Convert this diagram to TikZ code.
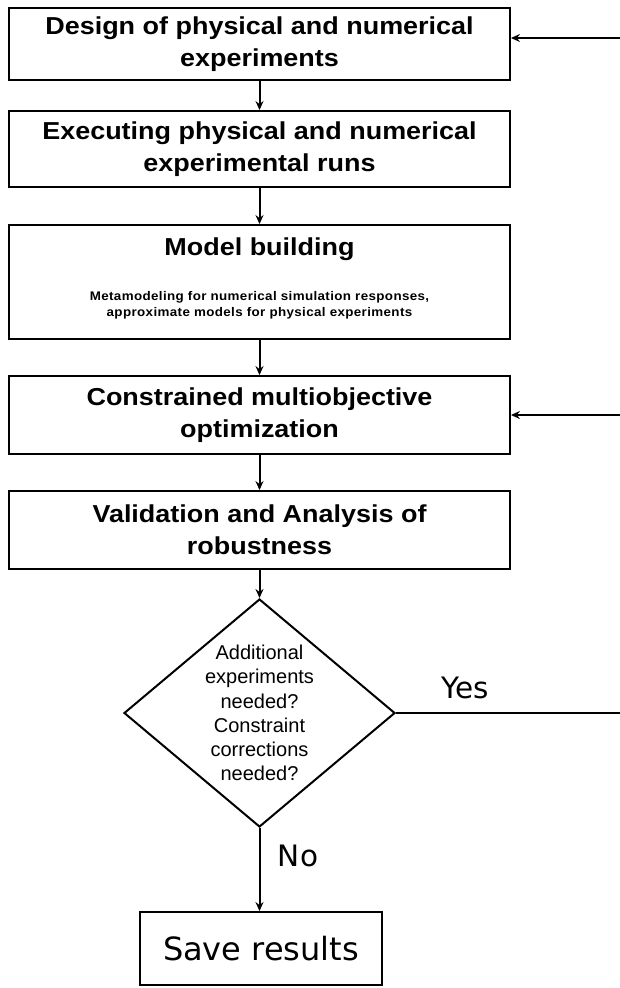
\documentclass[tikz,border=0pt]{standalone}
\usepackage{fontspec}
\setmainfont{Liberation Sans}
\newfontfamily\dejavu{DejaVu Sans}
\newfontfamily\boxfont[FakeStretch=1.10]{Liberation Sans}
\newfontfamily\smallfont[FakeStretch=1.07, LetterSpace=3]{Liberation Sans}
\usetikzlibrary{shapes.geometric,arrows.meta}
\tikzset{
  stepbox/.style={draw, line width=1.9pt, minimum width=501pt, align=center, inner sep=0pt,
    font=\boxfont\fontsize{24.5}{32}\selectfont\bfseries},
  flow/.style={line width=2pt, -{Stealth[length=9pt,width=8pt,inset=3pt]}},
  plain/.style={line width=2pt},
  lbl/.style={font=\dejavu\fontsize{29.5}{30}\selectfont, inner sep=0pt},
}
\begin{document}
\begin{tikzpicture}[x=1pt,y=-1pt]
\useasboundingbox (0,0) rectangle (620,988);
\node[stepbox, minimum height=72pt] (b1) at (259.5,44) {Design of physical and numerical\\experiments};
\node[stepbox, minimum height=76pt] (b2) at (259.5,149) {Executing physical and numerical\\experimental runs};
\node[stepbox, minimum height=114pt] (b3) at (259.5,282) {};
\node[font=\boxfont\fontsize{24.5}{26}\selectfont\bfseries, inner sep=0pt] (b3t) at (259.5,249) {Model building};
\node[font=\smallfont\fontsize{12.5}{15.5}\selectfont\bfseries, align=center, inner sep=0pt] (b3s) at (259.5,305.5)
  {Metamodeling for numerical simulation responses,\\approximate models for physical experiments};
\node[stepbox, minimum height=78pt] (b4) at (259.5,415) {Constrained multiobjective\\optimization};
\node[stepbox, minimum height=78pt] (b5) at (259.5,530) {Validation and Analysis of\\robustness};
\node[draw, diamond, line width=2pt, inner sep=0pt, minimum width=271pt, minimum height=228pt,
  label={[align=center, font=\fontsize{20}{24.3}\selectfont]center:Additional\\experiments\\needed?\\Constraint\\corrections\\needed?}] (dec) at (259.5,713) {};
\node[draw, line width=1.9pt, minimum width=242pt, minimum height=73pt, inner sep=0pt,
  font=\dejavu\fontsize{32}{34}\selectfont] (save) at (261,948.5) {Save results};
\node[lbl] (yes) at (465,688) {Yes};
\node[lbl] (no) at (298,856) {No};
\coordinate (r1) at (620,38);
\coordinate (r4) at (620,415);
\coordinate (ry) at (620,713);
\draw[flow] (b1.south) -- (b2.north);
\draw[flow] (b2.south) -- (b3.north);
\draw[flow] (b3.south) -- (b4.north);
\draw[flow] (b4.south) -- (b5.north);
\draw[flow] (b5.south) -- (dec.north);
\draw[flow] (dec.south) -- (save.north -| dec.south);
\draw[plain] (dec.east) -- (ry);
\draw[flow] (r1) -- (r1 -| b1.east);
\draw[flow] (r4) -- (r4 -| b4.east);
\end{tikzpicture}
\end{document}
